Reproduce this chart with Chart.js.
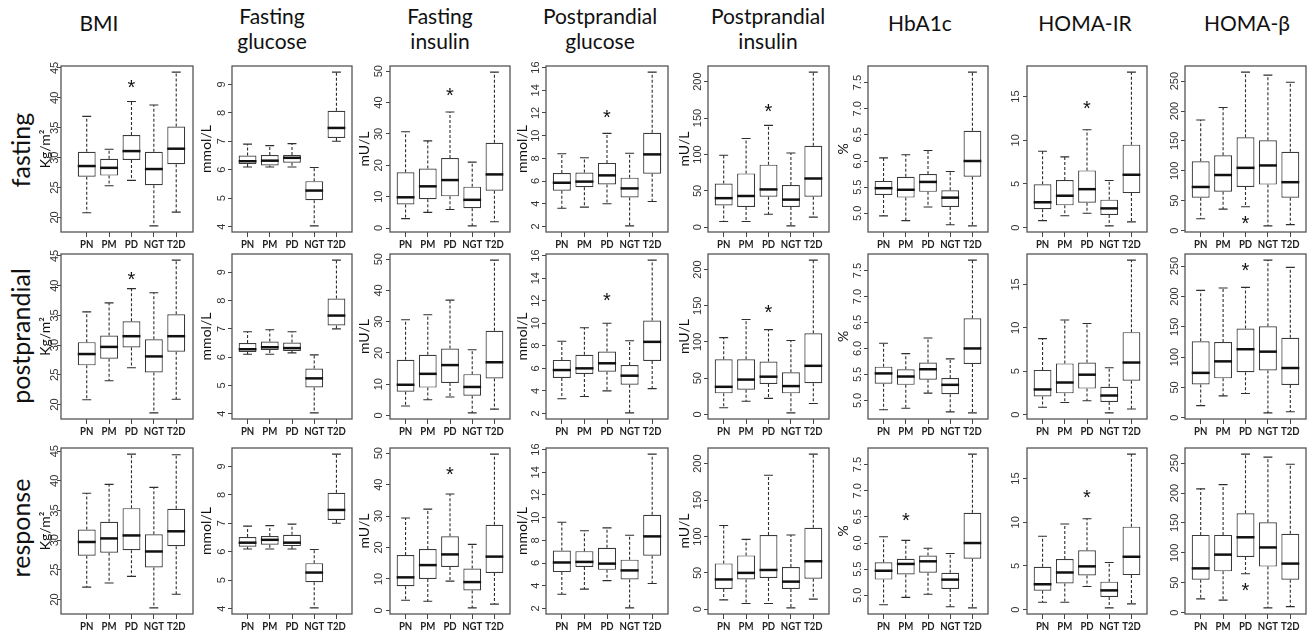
<!DOCTYPE html>
<html>
<head>
<meta charset="utf-8">
<script src="https://cdn.jsdelivr.net/npm/chart.js@4.4.1/dist/chart.umd.min.js"></script>
<style>
    body { margin: 0; background: #fff; width: 1309px; height: 632px; position: relative; overflow: hidden; font-family: Lato, "Open Sans", sans-serif; color: #111; }
    .head { position: absolute; font-size: 21px; line-height: 25px; text-align: center; white-space: pre; transform: translateX(-50%); }
    .rowlab { position: absolute; font-size: 25px; white-space: nowrap; transform: translate(-50%, -50%) rotate(-90deg); }
    .panel { position: absolute; }
</style>
</head>
<body>
<script>
// groups on the x axis of every panel
const groups = ['PN', 'PM', 'PD', 'NGT', 'T2D'];
const variables = ['BMI', 'Fasting\nglucose', 'Fasting\ninsulin', 'Postprandial\nglucose', 'Postprandial\ninsulin', 'HbA1c', 'HOMA-IR', 'HOMA-β'];
const units = ['Kg/m²', 'mmol/L', 'mU/L', 'mmol/L', 'mU/L', '%', '', ''];
const tickSteps = [5, 1, 10, 2, 50, 0.5, 5, 50];
const tickDecimals = [0, 0, 0, 0, 0, 1, 0, 0];
const conditions = ['fasting', 'postprandial', 'response'];

// each box: [lower whisker, Q1, median, Q3, upper whisker]
const fastingBMI = [[20.8, 26.8, 28.6, 31.0, 36.9], [25.3, 27.0, 28.3, 29.8, 31.4], [26.2, 29.6, 31.1, 33.8, 39.4], [18.6, 25.4, 28.1, 31.0, 38.8], [20.9, 28.9, 31.5, 35.2, 44.3]];
const postprandialBMI = [[20.8, 26.6, 28.5, 30.5, 35.6], [24.0, 27.7, 29.7, 31.6, 37.1], [26.2, 29.6, 31.5, 34.0, 39.5], [18.6, 25.4, 28.1, 31.0, 38.8], [20.9, 28.9, 31.5, 35.2, 44.3]];
const responseBMI = [[22.1, 27.4, 29.7, 31.8, 37.9], [22.8, 27.9, 30.3, 33.1, 39.4], [23.9, 28.3, 30.8, 35.4, 44.5], [18.6, 25.4, 28.1, 31.0, 38.9], [20.9, 29.0, 31.5, 35.3, 44.4]];

const fastingFG = [[6.1, 6.2, 6.3, 6.5, 6.9], [6.1, 6.15, 6.32, 6.52, 6.85], [6.1, 6.25, 6.42, 6.52, 6.92], [4.03, 4.93, 5.27, 5.6, 6.08], [7.0, 7.12, 7.47, 8.07, 9.43]];
const postprandialFG = [[6.1, 6.18, 6.28, 6.5, 6.9], [6.1, 6.25, 6.35, 6.55, 6.97], [6.15, 6.22, 6.32, 6.52, 6.9], [4.03, 4.93, 5.25, 5.6, 6.08], [7.0, 7.12, 7.47, 8.07, 9.43]];
const responseFG = [[6.1, 6.18, 6.32, 6.52, 6.9], [6.1, 6.25, 6.42, 6.55, 6.92], [6.1, 6.2, 6.32, 6.6, 6.97], [4.03, 4.93, 5.27, 5.6, 6.08], [7.0, 7.12, 7.47, 8.07, 9.43]];

const fastingFI = [[3.0, 7.5, 9.8, 17.8, 30.7], [5.0, 9.2, 13.3, 19.0, 27.8], [5.9, 10.1, 15.3, 22.3, 37.0], [0.7, 6.3, 9.0, 13.2, 21.0], [2.0, 11.9, 17.1, 27.2, 49.7]];
const postprandialFI = [[3.0, 7.6, 9.8, 17.8, 30.6], [5.0, 8.9, 13.3, 19.4, 32.2], [5.9, 10.4, 16.1, 21.4, 36.9], [0.8, 6.3, 9.1, 13.2, 21.0], [2.0, 11.8, 17.0, 27.1, 49.7]];
const responseFI = [[3.2, 7.7, 10.5, 17.6, 29.4], [2.9, 10.0, 14.4, 19.5, 32.2], [9.3, 13.8, 17.8, 23.6, 37.0], [0.8, 6.3, 9.0, 13.3, 21.0], [2.0, 11.9, 17.1, 27.2, 49.7]];

const fastingPG = [[3.6, 5.15, 5.85, 6.7, 8.4], [3.7, 5.45, 5.95, 6.75, 8.05], [4.0, 5.7, 6.5, 7.6, 10.2], [2.05, 4.55, 5.35, 6.3, 8.45], [4.2, 6.65, 8.35, 10.25, 15.6]];
const postprandialPG = [[3.3, 5.15, 5.85, 6.75, 8.4], [3.5, 5.5, 6.0, 7.2, 9.6], [4.0, 5.7, 6.45, 7.5, 10.0], [2.05, 4.55, 5.35, 6.3, 8.45], [4.2, 6.65, 8.35, 10.25, 15.6]];
const responsePG = [[3.25, 5.2, 6.05, 7.1, 9.6], [3.7, 5.65, 6.1, 7.05, 8.85], [4.45, 5.4, 5.95, 7.35, 9.1], [2.05, 4.55, 5.35, 6.3, 8.45], [4.2, 6.65, 8.35, 10.25, 15.6]];

const fastingPI = [[8, 30, 40, 60, 99], [8, 28, 43, 74, 122], [18, 42, 52, 86, 140], [2, 28, 38, 58, 102], [14, 42, 67, 112, 213]];
const postprandialPI = [[9, 29, 38, 76, 106], [18, 34, 48, 76, 131], [22, 42, 52, 73, 117], [2, 29, 39, 58, 102], [15, 43, 67, 112, 213]];
const responsePI = [[13, 28, 41, 63, 115], [8, 41, 50, 74, 96], [8, 43, 54, 102, 184], [2, 28, 38, 58, 102], [14, 42, 66, 112, 213]];

const fastingA1c = [[4.95, 5.35, 5.48, 5.62, 6.06], [4.86, 5.3, 5.45, 5.7, 6.12], [5.12, 5.41, 5.6, 5.75, 6.2], [4.78, 5.12, 5.3, 5.44, 5.8], [4.76, 5.7, 6.0, 6.58, 7.7]];
const postprandialA1c = [[4.82, 5.32, 5.52, 5.65, 6.1], [4.85, 5.3, 5.46, 5.6, 5.9], [5.14, 5.4, 5.6, 5.73, 6.2], [4.78, 5.12, 5.3, 5.43, 5.8], [4.76, 5.7, 6.0, 6.58, 7.7]];
const responseA1c = [[4.82, 5.3, 5.47, 5.63, 6.12], [4.96, 5.4, 5.6, 5.7, 6.05], [5.02, 5.43, 5.65, 5.76, 5.9], [4.78, 5.12, 5.3, 5.43, 5.8], [4.76, 5.7, 6.0, 6.58, 7.7]];

const fastingIR = [[0.8, 2.1, 2.9, 4.95, 8.75], [1.35, 2.55, 3.65, 5.45, 8.1], [1.65, 2.85, 4.4, 6.55, 11.2], [0.2, 1.45, 2.2, 3.2, 5.4], [0.65, 3.95, 6.05, 9.5, 17.8]];
const postprandialIR = [[0.85, 2.1, 2.9, 5.15, 8.75], [1.4, 2.45, 3.7, 5.9, 10.9], [1.6, 3.0, 4.6, 6.0, 10.5], [0.2, 1.45, 2.2, 3.2, 5.4], [0.65, 3.9, 6.0, 9.5, 17.8]];
const responseIR = [[0.85, 2.15, 2.9, 4.9, 8.4], [0.85, 3.0, 4.25, 5.8, 9.8], [2.65, 3.9, 4.95, 6.8, 10.4], [0.2, 1.45, 2.2, 3.2, 5.4], [0.65, 3.95, 6.05, 9.5, 17.8]];

const fastingBeta = [[20, 55, 73, 116, 185], [36, 65, 93, 126, 206], [40, 73, 105, 156, 265], [8, 77, 109, 151, 260], [10, 55, 81, 132, 248]];
const postprandialBeta = [[20, 55, 74, 126, 210], [36, 65, 93, 125, 214], [40, 75, 113, 147, 215], [8, 78, 109, 151, 260], [10, 54, 82, 132, 248]];
const responseBeta = [[23, 55, 74, 130, 207], [21, 69, 97, 130, 214], [65, 93, 126, 166, 265], [8, 77, 109, 151, 260], [10, 55, 82, 132, 248]];

const panels = [
    [fastingBMI, fastingFG, fastingFI, fastingPG, fastingPI, fastingA1c, fastingIR, fastingBeta],
    [postprandialBMI, postprandialFG, postprandialFI, postprandialPG, postprandialPI, postprandialA1c, postprandialIR, postprandialBeta],
    [responseBMI, responseFG, responseFI, responsePG, responsePI, responseA1c, responseIR, responseBeta]
];

// significance marks: [row, column, group index, value]
const stars = [
    [0, 0, 2, 42.5], [0, 2, 2, 43.8], [0, 3, 2, 12.0], [0, 4, 2, 166], [0, 6, 2, 14.2], [0, 7, 2, 20],
    [1, 0, 2, 41.9], [1, 3, 2, 12.5], [1, 4, 2, 147], [1, 7, 2, 251],
    [2, 2, 2, 44.8], [2, 5, 1, 6.52], [2, 6, 2, 13.4], [2, 7, 2, 46]
];

// page layout (pixels)
const frameLeft = [61, 232, 390, 546, 708, 868, 1027, 1185];
const frameRight = [193, 352, 510, 668, 829, 988, 1147, 1306];
const frameTop = [66, 254, 448];
const frameBottom = [232, 419, 614];
const xMin = [-0.15, 0.3, 0.3, 0.3, 0.3, 0.3, 0.3, 0.3];
const xMax = [5.75, 5.7, 5.7, 5.7, 5.7, 5.7, 5.7, 5.7];
const labelOffset = [6, 10, 11, 10, 10, 10, 11, 10];
const titleOffset = [16, 26, 26, 24, 24, 25, 0, 0];
const headX = [99, 272, 440, 600, 768, 920, 1085, 1247];
const rowLabelY = [150, 336, 528];
const LM = 36, TM = 4, RM = 4, BM = 24;

const boxPlot = {
    id: 'boxPlot',
    beforeDatasetsDraw(chart, args, opts) {
        // whiskers and staples
        const {ctx, scales: {y}} = chart;
        const meta = chart.getDatasetMeta(0);
        ctx.save();
        ctx.strokeStyle = '#2e2e2e';
        ctx.lineWidth = 1.1;
        opts.stats.forEach((s, i) => {
            const bar = meta.data[i];
            const cx = bar.x, cap = bar.width / 4;
            ctx.setLineDash([3, 2]);
            ctx.beginPath();
            ctx.moveTo(cx, y.getPixelForValue(s[3]));
            ctx.lineTo(cx, y.getPixelForValue(s[4]));
            ctx.moveTo(cx, y.getPixelForValue(s[1]));
            ctx.lineTo(cx, y.getPixelForValue(s[0]));
            ctx.stroke();
            ctx.setLineDash([]);
            ctx.beginPath();
            ctx.moveTo(cx - cap, y.getPixelForValue(s[4]));
            ctx.lineTo(cx + cap, y.getPixelForValue(s[4]));
            ctx.moveTo(cx - cap, y.getPixelForValue(s[0]));
            ctx.lineTo(cx + cap, y.getPixelForValue(s[0]));
            ctx.stroke();
        });
        ctx.restore();
    },
    afterDatasetsDraw(chart, args, opts) {
        // medians
        const {ctx, scales: {y}} = chart;
        const meta = chart.getDatasetMeta(0);
        ctx.save();
        ctx.strokeStyle = '#111';
        ctx.lineWidth = 2.5;
        opts.stats.forEach((s, i) => {
            const bar = meta.data[i];
            const py = y.getPixelForValue(s[2]);
            ctx.beginPath();
            ctx.moveTo(bar.x - bar.width / 2, py);
            ctx.lineTo(bar.x + bar.width / 2, py);
            ctx.stroke();
        });
        ctx.restore();
    },
    afterDraw(chart, args, opts) {
        const {ctx, chartArea: a, scales: {x, y}} = chart;
        ctx.save();
        // box around the plot region
        ctx.strokeStyle = '#555';
        ctx.lineWidth = 1.3;
        ctx.strokeRect(a.left, a.top, a.right - a.left, a.bottom - a.top);
        // y tick labels, parallel to the axis
        ctx.fillStyle = '#333';
        ctx.font = '11px "Liberation Sans", Arial, sans-serif';
        ctx.textAlign = 'center';
        ctx.textBaseline = 'middle';
        y.ticks.forEach(t => {
            ctx.save();
            ctx.translate(a.left - opts.labelOffset, y.getPixelForValue(t.value));
            ctx.rotate(-Math.PI / 2);
            ctx.fillText(t.value.toFixed(opts.decimals), 0, 0);
            ctx.restore();
        });
        // group labels, slightly condensed
        ctx.fillStyle = '#222';
        ctx.font = 'bold 12px Lato, sans-serif';
        x.ticks.forEach((t, i) => {
            ctx.save();
            ctx.translate(x.getPixelForValue(t.value), a.bottom + 12);
            ctx.scale(0.8, 1);
            ctx.fillText(groups[i], 0, 0);
            ctx.restore();
        });
        if (opts.unit) {
            ctx.fillStyle = '#111';
            ctx.font = '14px Lato, sans-serif';
            ctx.save();
            ctx.translate(a.left - opts.titleOffset, (a.top + a.bottom) / 2);
            ctx.rotate(-Math.PI / 2);
            ctx.fillText(opts.unit, 0, 0);
            ctx.restore();
        }
        // asterisks
        ctx.fillStyle = '#111';
        ctx.font = '20px "Liberation Sans", Arial, sans-serif';
        ctx.textBaseline = 'alphabetic';
        opts.stars.forEach(st => {
            ctx.fillText('*', x.getPixelForValue(st[2] + 1), y.getPixelForValue(st[3]) + 11.5);
        });
        ctx.restore();
    }
};

function addText(cls, text, left, top) {
    const d = document.createElement('div');
    d.className = cls;
    d.textContent = text;
    d.style.left = left + 'px';
    d.style.top = top + 'px';
    document.body.appendChild(d);
}

variables.forEach((v, c) => addText('head', v, headX[c], v.includes('\n') ? 3 : 10));
conditions.forEach((t, r) => addText('rowlab', t, 20, rowLabelY[r]));

panels.forEach((row, r) => {
    row.forEach((stats, c) => {
        const w = frameRight[c] - frameLeft[c] + LM + RM;
        const h = frameBottom[r] - frameTop[r] + TM + BM;
        const wrap = document.createElement('div');
        wrap.className = 'panel';
        wrap.style.left = (frameLeft[c] - LM) + 'px';
        wrap.style.top = (frameTop[r] - TM) + 'px';
        const canvas = document.createElement('canvas');
        canvas.width = w;
        canvas.height = h;
        canvas.style.width = w + 'px';
        canvas.style.height = h + 'px';
        wrap.appendChild(canvas);
        document.body.appendChild(wrap);

        // y range like R: whisker range widened by 4% on each side
        const lo = Math.min(...stats.map(s => s[0]));
        const hi = Math.max(...stats.map(s => s[4]));
        const pad = (hi - lo) * 0.04;

        new Chart(canvas, {
            type: 'bar',
            data: {
                datasets: [{
                    data: stats.map((s, i) => ({x: i + 1, y: [s[1], s[3]]})),
                    backgroundColor: '#fff',
                    borderColor: '#3a3a3a',
                    borderWidth: 1.2,
                    borderSkipped: false,
                    barPercentage: 0.8,
                    categoryPercentage: 1
                }]
            },
            options: {
                responsive: false,
                animation: false,
                devicePixelRatio: 1,
                layout: {padding: {top: TM, right: RM, left: 0, bottom: 0}},
                plugins: {
                    legend: {display: false},
                    tooltip: {enabled: false},
                    boxPlot: {
                        stats: stats,
                        unit: units[c],
                        decimals: tickDecimals[c],
                        labelOffset: labelOffset[c],
                        titleOffset: titleOffset[c],
                        stars: stars.filter(st => st[0] === r && st[1] === c)
                    }
                },
                scales: {
                    x: {
                        type: 'linear',
                        min: xMin[c],
                        max: xMax[c],
                        offset: false,
                        afterBuildTicks: s => { s.ticks = groups.map((g, i) => ({value: i + 1})); },
                        afterFit: s => { s.height = BM; },
                        ticks: {display: false},
                        grid: {drawOnChartArea: false, offset: false, tickLength: 5, color: '#444'},
                        border: {display: false}
                    },
                    y: {
                        min: lo - pad,
                        max: hi + pad,
                        beginAtZero: false,
                        afterFit: s => { s.width = LM; },
                        ticks: {display: false, stepSize: tickSteps[c], includeBounds: false},
                        grid: {drawOnChartArea: false, tickLength: 4, color: '#444'},
                        border: {display: false}
                    }
                }
            },
            plugins: [boxPlot]
        });
    });
});
</script>
</body>
</html>
